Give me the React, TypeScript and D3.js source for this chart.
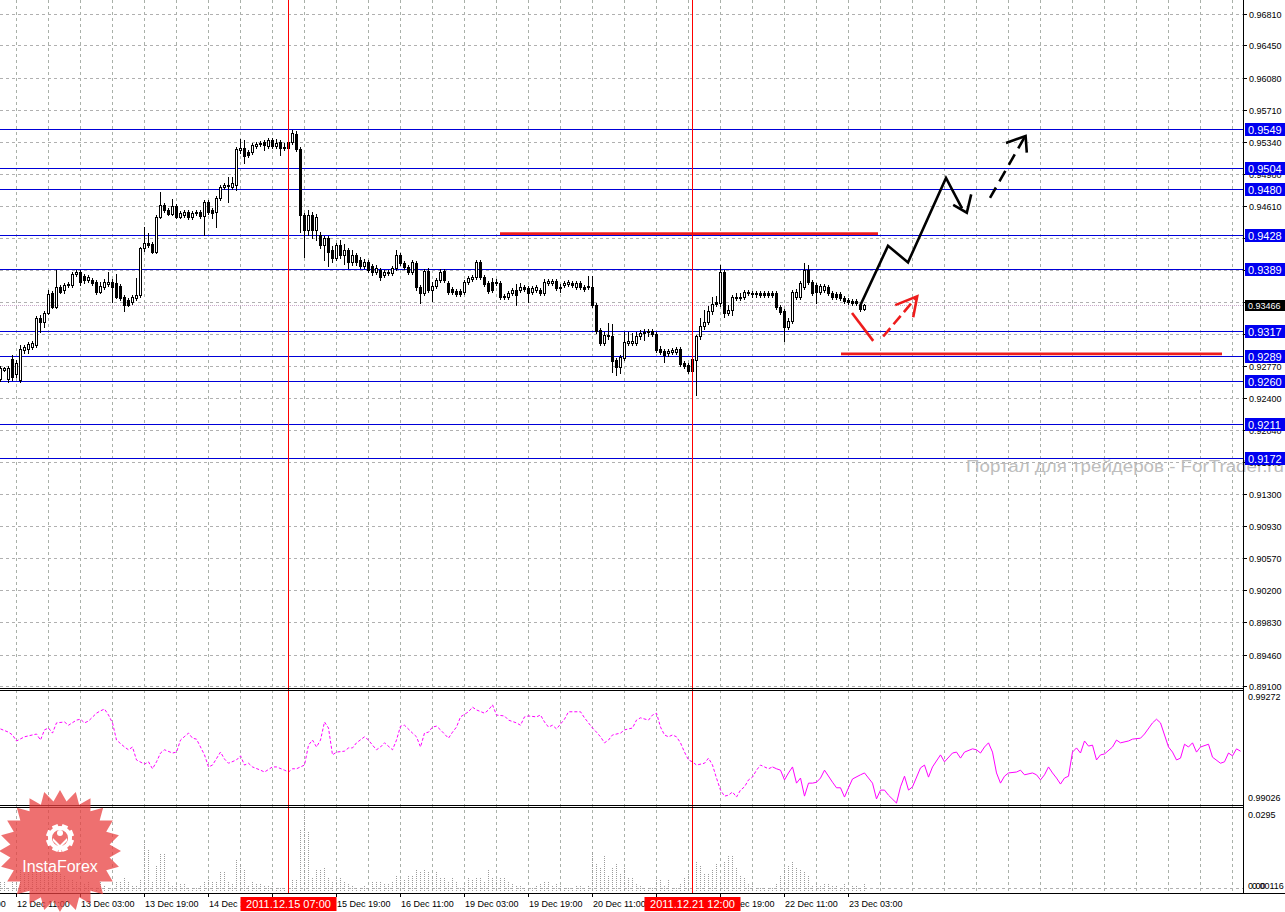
import React from "react";
import * as d3 from "d3";

// ---------- DATA ----------
const opens = [
  0.9262, 0.9273, 0.9262, 0.9285, 0.9268, 0.9261, 0.9296, 0.9297, 0.9299, 0.9301,
  0.9332, 0.9328, 0.9338, 0.9361, 0.9345, 0.9368, 0.9364, 0.9370, 0.9370, 0.9383,
  0.9385, 0.9380, 0.9376, 0.9376, 0.9374, 0.9362, 0.9368, 0.9371, 0.9374, 0.9372,
  0.9369, 0.9356, 0.9353, 0.9351, 0.9355, 0.9359, 0.9412, 0.9418, 0.9417, 0.9408,
  0.9448, 0.9462, 0.9456, 0.9452, 0.9461, 0.9448, 0.9450, 0.9454, 0.9448, 0.9453,
  0.9454, 0.9449, 0.9465, 0.9456, 0.9454, 0.9470, 0.9482, 0.9484, 0.9482, 0.9485,
  0.9525, 0.9527, 0.9523, 0.9523, 0.9530, 0.9532, 0.9534, 0.9530, 0.9536, 0.9530,
  0.9534, 0.9527, 0.9534, 0.9534, 0.9543, 0.9526, 0.9450, 0.9433, 0.9450, 0.9433,
  0.9427, 0.9416, 0.9424, 0.9410, 0.9401, 0.9416, 0.9405, 0.9410, 0.9396, 0.9405,
  0.9399, 0.9392, 0.9396, 0.9392, 0.9385, 0.9387, 0.9382, 0.9384, 0.9384, 0.9390,
  0.9405, 0.9395, 0.9391, 0.9385, 0.9395, 0.9368, 0.9361, 0.9386, 0.9364, 0.9369,
  0.9376, 0.9386, 0.9372, 0.9366, 0.9363, 0.9363, 0.9362, 0.9374, 0.9377, 0.9379,
  0.9396, 0.9379, 0.9372, 0.9374, 0.9372, 0.9372, 0.9357, 0.9356, 0.9361, 0.9364,
  0.9364, 0.9368, 0.9367, 0.9362, 0.9364, 0.9364, 0.9361, 0.9372, 0.9372, 0.9375,
  0.9367, 0.9370, 0.9371, 0.9372, 0.9368, 0.9372, 0.9368, 0.9369, 0.9368, 0.9347,
  0.9318, 0.9304, 0.9311, 0.9312, 0.9284, 0.9276, 0.9286, 0.9304, 0.9304, 0.9304,
  0.9311, 0.9315, 0.9316, 0.9317, 0.9314, 0.9297, 0.9294, 0.9292, 0.9293, 0.9293,
  0.9297, 0.9281, 0.9278, 0.9285, 0.9284, 0.9311, 0.9323, 0.9328, 0.9340, 0.9351,
  0.9349, 0.9385, 0.9338, 0.9341, 0.9356, 0.9356, 0.9356, 0.9361, 0.9361, 0.9361,
  0.9361, 0.9361, 0.9361, 0.9361, 0.9361, 0.9345, 0.9340, 0.9322, 0.9329, 0.9356,
  0.9356, 0.9368, 0.9387, 0.9374, 0.9370, 0.9362, 0.9364, 0.9368, 0.9361, 0.9360,
  0.9360, 0.9355, 0.9353, 0.9352, 0.9352, 0.9347, 0.9343,
];
const highs = [
  0.9277, 0.9276, 0.9277, 0.9290, 0.9284, 0.9301, 0.9301, 0.9305, 0.9306, 0.9335,
  0.9336, 0.9340, 0.9364, 0.9363, 0.9387, 0.9370, 0.9372, 0.9374, 0.9385, 0.9387,
  0.9387, 0.9383, 0.9382, 0.9378, 0.9376, 0.9374, 0.9377, 0.9385, 0.9377, 0.9383,
  0.9371, 0.9359, 0.9355, 0.9359, 0.9378, 0.9414, 0.9437, 0.9430, 0.9419, 0.9450,
  0.9477, 0.9464, 0.9458, 0.9469, 0.9463, 0.9455, 0.9456, 0.9456, 0.9455, 0.9456,
  0.9456, 0.9468, 0.9468, 0.9458, 0.9472, 0.9485, 0.9487, 0.9494, 0.9494, 0.9528,
  0.9538, 0.9536, 0.9525, 0.9533, 0.9534, 0.9535, 0.9536, 0.9539, 0.9539, 0.9538,
  0.9536, 0.9533, 0.9536, 0.9548, 0.9547, 0.9528, 0.9453, 0.9456, 0.9454, 0.9452,
  0.9431, 0.9426, 0.9426, 0.9415, 0.9418, 0.9422, 0.9417, 0.9413, 0.9410, 0.9407,
  0.9402, 0.9400, 0.9399, 0.9394, 0.9393, 0.9390, 0.9387, 0.9387, 0.9392, 0.9410,
  0.9407, 0.9398, 0.9393, 0.9399, 0.9398, 0.9370, 0.9388, 0.9390, 0.9374, 0.9378,
  0.9388, 0.9388, 0.9375, 0.9368, 0.9366, 0.9366, 0.9376, 0.9380, 0.9382, 0.9399,
  0.9399, 0.9382, 0.9375, 0.9378, 0.9377, 0.9375, 0.9360, 0.9363, 0.9367, 0.9371,
  0.9372, 0.9370, 0.9369, 0.9369, 0.9370, 0.9367, 0.9377, 0.9377, 0.9377, 0.9377,
  0.9371, 0.9375, 0.9376, 0.9375, 0.9375, 0.9375, 0.9370, 0.9380, 0.9380, 0.9349,
  0.9321, 0.9316, 0.9327, 0.9325, 0.9286, 0.9290, 0.9316, 0.9316, 0.9315, 0.9316,
  0.9318, 0.9320, 0.9320, 0.9320, 0.9316, 0.9300, 0.9297, 0.9297, 0.9298, 0.9299,
  0.9299, 0.9283, 0.9281, 0.9288, 0.9313, 0.9332, 0.9341, 0.9346, 0.9356, 0.9357,
  0.9393, 0.9387, 0.9347, 0.9359, 0.9361, 0.9361, 0.9364, 0.9364, 0.9363, 0.9363,
  0.9363, 0.9363, 0.9363, 0.9363, 0.9363, 0.9347, 0.9343, 0.9332, 0.9364, 0.9366,
  0.9375, 0.9395, 0.9393, 0.9376, 0.9372, 0.9371, 0.9371, 0.9370, 0.9363, 0.9362,
  0.9362, 0.9357, 0.9355, 0.9354, 0.9354, 0.9349, 0.9348,
];
const lows = [
  0.9260, 0.9271, 0.9259, 0.9261, 0.9265, 0.9259, 0.9292, 0.9292, 0.9297, 0.9299,
  0.9316, 0.9322, 0.9337, 0.9344, 0.9344, 0.9361, 0.9361, 0.9368, 0.9368, 0.9380,
  0.9370, 0.9372, 0.9374, 0.9370, 0.9360, 0.9361, 0.9366, 0.9369, 0.9351, 0.9355,
  0.9353, 0.9340, 0.9346, 0.9348, 0.9353, 0.9356, 0.9409, 0.9414, 0.9407, 0.9407,
  0.9447, 0.9454, 0.9450, 0.9450, 0.9447, 0.9447, 0.9448, 0.9446, 0.9446, 0.9450,
  0.9447, 0.9427, 0.9452, 0.9447, 0.9437, 0.9468, 0.9480, 0.9465, 0.9480, 0.9479,
  0.9522, 0.9510, 0.9517, 0.9520, 0.9527, 0.9530, 0.9525, 0.9527, 0.9527, 0.9527,
  0.9519, 0.9525, 0.9525, 0.9532, 0.9524, 0.9431, 0.9402, 0.9427, 0.9424, 0.9422,
  0.9413, 0.9399, 0.9392, 0.9396, 0.9399, 0.9401, 0.9394, 0.9390, 0.9393, 0.9393,
  0.9390, 0.9390, 0.9385, 0.9382, 0.9383, 0.9376, 0.9379, 0.9382, 0.9382, 0.9387,
  0.9393, 0.9388, 0.9383, 0.9383, 0.9364, 0.9349, 0.9359, 0.9362, 0.9352, 0.9367,
  0.9374, 0.9374, 0.9360, 0.9360, 0.9357, 0.9357, 0.9360, 0.9371, 0.9375, 0.9377,
  0.9377, 0.9369, 0.9361, 0.9362, 0.9370, 0.9354, 0.9354, 0.9354, 0.9359, 0.9347,
  0.9362, 0.9363, 0.9351, 0.9360, 0.9362, 0.9359, 0.9359, 0.9370, 0.9370, 0.9364,
  0.9362, 0.9368, 0.9369, 0.9368, 0.9366, 0.9366, 0.9363, 0.9366, 0.9345, 0.9315,
  0.9301, 0.9301, 0.9308, 0.9270, 0.9267, 0.9269, 0.9284, 0.9301, 0.9301, 0.9301,
  0.9308, 0.9307, 0.9312, 0.9312, 0.9293, 0.9291, 0.9282, 0.9289, 0.9291, 0.9291,
  0.9277, 0.9275, 0.9269, 0.9269, 0.9244, 0.9308, 0.9320, 0.9325, 0.9337, 0.9346,
  0.9346, 0.9333, 0.9336, 0.9336, 0.9353, 0.9353, 0.9354, 0.9359, 0.9356, 0.9356,
  0.9356, 0.9356, 0.9356, 0.9356, 0.9343, 0.9337, 0.9306, 0.9320, 0.9327, 0.9354,
  0.9354, 0.9366, 0.9371, 0.9359, 0.9349, 0.9360, 0.9362, 0.9359, 0.9354, 0.9354,
  0.9353, 0.9349, 0.9348, 0.9347, 0.9347, 0.9340, 0.9341,
];
const closes = [
  0.9275, 0.9275, 0.9275, 0.9265, 0.9281, 0.9297, 0.9299, 0.9302, 0.9304, 0.9332,
  0.9328, 0.9338, 0.9360, 0.9345, 0.9368, 0.9362, 0.9370, 0.9371, 0.9383, 0.9385,
  0.9374, 0.9376, 0.9379, 0.9372, 0.9362, 0.9369, 0.9374, 0.9374, 0.9368, 0.9356,
  0.9355, 0.9347, 0.9347, 0.9356, 0.9359, 0.9412, 0.9418, 0.9416, 0.9408, 0.9448,
  0.9462, 0.9456, 0.9452, 0.9461, 0.9448, 0.9453, 0.9454, 0.9448, 0.9453, 0.9454,
  0.9449, 0.9465, 0.9454, 0.9453, 0.9470, 0.9482, 0.9485, 0.9485, 0.9487, 0.9526,
  0.9527, 0.9518, 0.9519, 0.9531, 0.9532, 0.9533, 0.9531, 0.9536, 0.9530, 0.9533,
  0.9527, 0.9528, 0.9527, 0.9544, 0.9526, 0.9450, 0.9433, 0.9450, 0.9433, 0.9448,
  0.9416, 0.9424, 0.9408, 0.9401, 0.9416, 0.9405, 0.9410, 0.9396, 0.9405, 0.9396,
  0.9392, 0.9396, 0.9387, 0.9385, 0.9390, 0.9379, 0.9385, 0.9385, 0.9390, 0.9405,
  0.9395, 0.9391, 0.9385, 0.9396, 0.9368, 0.9361, 0.9386, 0.9364, 0.9369, 0.9376,
  0.9385, 0.9376, 0.9362, 0.9362, 0.9360, 0.9360, 0.9374, 0.9378, 0.9379, 0.9396,
  0.9379, 0.9371, 0.9363, 0.9364, 0.9374, 0.9356, 0.9356, 0.9361, 0.9364, 0.9359,
  0.9368, 0.9366, 0.9361, 0.9367, 0.9368, 0.9361, 0.9374, 0.9375, 0.9375, 0.9367,
  0.9368, 0.9372, 0.9374, 0.9370, 0.9372, 0.9368, 0.9366, 0.9368, 0.9347, 0.9317,
  0.9304, 0.9313, 0.9313, 0.9283, 0.9276, 0.9288, 0.9305, 0.9306, 0.9306, 0.9311,
  0.9315, 0.9316, 0.9317, 0.9314, 0.9296, 0.9293, 0.9290, 0.9294, 0.9296, 0.9297,
  0.9279, 0.9277, 0.9271, 0.9271, 0.9311, 0.9323, 0.9328, 0.9340, 0.9348, 0.9348,
  0.9385, 0.9338, 0.9341, 0.9356, 0.9355, 0.9355, 0.9362, 0.9362, 0.9360, 0.9360,
  0.9359, 0.9359, 0.9359, 0.9359, 0.9345, 0.9339, 0.9322, 0.9329, 0.9362, 0.9362,
  0.9372, 0.9387, 0.9374, 0.9361, 0.9362, 0.9369, 0.9369, 0.9361, 0.9356, 0.9356,
  0.9355, 0.9352, 0.9351, 0.9349, 0.9349, 0.9343, 0.93466,
];
const volumes = [
  0.0031, 0.0031, 0.0012, 0.0031, 0.0031, 0.0074, 0.0062, 0.0074, 0.0068, 0.0074,
  0.0074, 0.0074, 0.0062, 0.0074, 0.0068, 0.0062, 0.0055, 0.0043, 0.0043, 0.0037,
  0.0031, 0.0025, 0.0031, 0.0012, 0.0012, 0.0031, 0.0018, 0.0012, 0.0006, 0.0031,
  0.0037, 0.0049, 0.0031, 0.0018, 0.0022, 0.0043, 0.0178, 0.0150, 0.0037, 0.0092,
  0.0133, 0.0133, 0.0031, 0.0018, 0.0025, 0.0027, 0.0025, 0.0010, 0.0012, 0.0010,
  0.0018, 0.0037, 0.0039, 0.0034, 0.0037, 0.0071, 0.0071, 0.0037, 0.0027, 0.0113,
  0.0101, 0.0074, 0.0018, 0.0031, 0.0025, 0.0025, 0.0018, 0.0018, 0.0018, 0.0012,
  0.0012, 0.0010, 0.0025, 0.0039, 0.0043, 0.0221, 0.0289, 0.0215, 0.0052, 0.0074,
  0.0076, 0.0084, 0.0049, 0.0031, 0.0047, 0.0047, 0.0034, 0.0025, 0.0022, 0.0012,
  0.0012, 0.0018, 0.0012, 0.0031, 0.0031, 0.0031, 0.0025, 0.0027, 0.0037, 0.0055,
  0.0043, 0.0043, 0.0055, 0.0055, 0.0076, 0.0068, 0.0076, 0.0068, 0.0055, 0.0068,
  0.0052, 0.0052, 0.0037, 0.0052, 0.0037, 0.0012, 0.0025, 0.0047, 0.0043, 0.0052,
  0.0052, 0.0037, 0.0074, 0.0049, 0.0043, 0.0046, 0.0046, 0.0034, 0.0025, 0.0022,
  0.0022, 0.0016, 0.0010, 0.0016, 0.0022, 0.0030, 0.0034, 0.0034, 0.0022, 0.0028,
  0.0022, 0.0016, 0.0016, 0.0016, 0.0018, 0.0018, 0.0016, 0.0022, 0.0140, 0.0100,
  0.0088, 0.0125, 0.0058, 0.0088, 0.0100, 0.0064, 0.0082, 0.0046, 0.0052, 0.0028,
  0.0022, 0.0016, 0.0016, 0.0010, 0.0052, 0.0040, 0.0018, 0.0040, 0.0010, 0.0016,
  0.0028, 0.0052, 0.0064, 0.0058, 0.0106, 0.0094, 0.0064, 0.0061, 0.0076, 0.0102,
  0.0040, 0.0106, 0.0130, 0.0125, 0.0082, 0.0058, 0.0046, 0.0030, 0.0028, 0.0010,
  0.0010, 0.0010, 0.0013, 0.0010, 0.0028, 0.0058, 0.0082, 0.0094, 0.0106, 0.0082,
  0.0076, 0.0070, 0.0058, 0.0022, 0.0028, 0.0022, 0.0028, 0.0028, 0.0022, 0.0022,
  0.0010, 0.0028, 0.0016, 0.0022, 0.0022, 0.0010, 0.0028,
];
const indBars = [
  0, 2, 3, 4, 6, 7, 9, 10, 11, 12, 13, 14, 16, 17, 19, 20, 21, 22, 24, 25, 26, 27, 28, 29, 31, 32, 33, 34, 36, 37,
  38, 39, 40, 41, 43, 44, 45, 47, 48, 49, 51, 52, 53, 55, 56, 57, 59, 60, 61, 62, 63, 65, 66, 68, 69, 71, 72, 73, 74, 76,
  77, 78, 79, 80, 81, 82, 83, 84, 86, 87, 88, 89, 91, 92, 93, 94, 95, 96, 98, 99, 100, 101, 103, 104, 105, 106, 107, 108, 109, 110,
  112, 113, 114, 115, 117, 118, 119, 121, 122, 123, 124, 126, 127, 129, 130, 131, 132, 134, 135, 136, 137, 138, 139, 141, 142, 143, 145, 146, 147, 148,
  149, 150, 151, 152, 153, 155, 156, 158, 159, 160, 162, 163, 164, 165, 166, 167, 168, 169, 170, 171, 172, 173, 174, 176, 177, 178, 179, 180, 181, 182,
  183, 184, 185, 186, 187, 188, 189, 190, 191, 192, 193, 194, 195, 196, 197, 198, 199, 200, 201, 202, 203, 204, 205, 206, 208, 209, 210, 211, 212, 213,
  215, 216, 218, 219, 220, 221, 222, 224, 225, 226, 227, 228, 230, 231, 232, 233, 235, 236, 238, 239, 240, 241, 243, 244, 245, 246, 247, 248, 249, 250,
  251, 252, 254, 255, 256, 258, 259, 260, 261, 262, 263, 264, 265, 266, 267, 268, 269, 270, 271, 272, 273, 274, 275, 276, 278, 279, 280, 282, 283, 285,
  286, 288, 289, 290, 292, 293, 294, 295, 296, 297, 298, 299, 300, 302, 303, 305, 306, 307, 308, 309, 310,
];
const indValues = [
  0.99188, 0.99181, 0.99175, 0.99162, 0.99171, 0.99173, 0.99177, 0.99164, 0.99186, 0.99190, 0.99179, 0.99201, 0.99203, 0.99196, 0.99207, 0.99209, 0.99201, 0.99205, 0.99222, 0.99227, 0.99231, 0.99218, 0.99201, 0.99164, 0.99149, 0.99143, 0.99149, 0.99121, 0.99112, 0.99117,
  0.99102, 0.99117, 0.99136, 0.99143, 0.99136, 0.99138, 0.99164, 0.99179, 0.99168, 0.99166, 0.99132, 0.99106, 0.99110, 0.99138, 0.99123, 0.99114, 0.99121, 0.99130, 0.99110, 0.99114, 0.99106, 0.99099, 0.99095, 0.99106, 0.99106, 0.99099, 0.99095, 0.99102, 0.99102, 0.99110,
  0.99153, 0.99164, 0.99149, 0.99164, 0.99203, 0.99190, 0.99132, 0.99138, 0.99140, 0.99147, 0.99147, 0.99158, 0.99171, 0.99164, 0.99153, 0.99143, 0.99149, 0.99158, 0.99143, 0.99164, 0.99194, 0.99196, 0.99179, 0.99171, 0.99149, 0.99179, 0.99181, 0.99192, 0.99194, 0.99186,
  0.99168, 0.99181, 0.99192, 0.99214, 0.99225, 0.99235, 0.99229, 0.99222, 0.99229, 0.99240, 0.99218, 0.99216, 0.99207, 0.99201, 0.99196, 0.99214, 0.99216, 0.99214, 0.99218, 0.99203, 0.99192, 0.99196, 0.99188, 0.99209, 0.99225, 0.99225, 0.99225, 0.99212, 0.99201, 0.99190,
  0.99181, 0.99171, 0.99158, 0.99164, 0.99175, 0.99179, 0.99186, 0.99190, 0.99207, 0.99212, 0.99207, 0.99218, 0.99222, 0.99192, 0.99175, 0.99171, 0.99175, 0.99171, 0.99158, 0.99138, 0.99121, 0.99117, 0.99110, 0.99114, 0.99125, 0.99110, 0.99082, 0.99056, 0.99043, 0.99045,
  0.99052, 0.99041, 0.99056, 0.99063, 0.99078, 0.99084, 0.99099, 0.99110, 0.99106, 0.99102, 0.99106, 0.99102, 0.99099, 0.99078, 0.99093, 0.99106, 0.99071, 0.99082, 0.99043, 0.99071, 0.99071, 0.99073, 0.99082, 0.99099, 0.99073, 0.99061, 0.99061, 0.99041, 0.99061, 0.99080,
  0.99089, 0.99093, 0.99071, 0.99037, 0.99056, 0.99056, 0.99045, 0.99028, 0.99063, 0.99086, 0.99056, 0.99063, 0.99104, 0.99110, 0.99084, 0.99106, 0.99132, 0.99117, 0.99136, 0.99138, 0.99125, 0.99138, 0.99145, 0.99143, 0.99136, 0.99149, 0.99158, 0.99138, 0.99093, 0.99071,
  0.99086, 0.99093, 0.99095, 0.99099, 0.99089, 0.99093, 0.99089, 0.99078, 0.99089, 0.99106, 0.99093, 0.99082, 0.99069, 0.99082, 0.99086, 0.99138, 0.99147, 0.99136, 0.99162, 0.99151, 0.99153, 0.99121, 0.99132, 0.99134, 0.99149, 0.99164, 0.99158, 0.99162, 0.99166, 0.99168,
  0.99177, 0.99201, 0.99209, 0.99201, 0.99149, 0.99138, 0.99121, 0.99125, 0.99155, 0.99149, 0.99158, 0.99138, 0.99149, 0.99155, 0.99127, 0.99114, 0.99117, 0.99136, 0.99130, 0.99145, 0.99140,
];
const indSolidFrom = 193;

const priceTicks = [
  0.9681, 0.9645, 0.9608, 0.9571, 0.9534, 0.9498, 0.9461, 0.9424, 0.9387, 0.9351, 0.9314,
  0.9277, 0.924, 0.9204, 0.9167, 0.913, 0.9093, 0.9057, 0.902, 0.8983, 0.8946, 0.891,
];
const levelPrices = [0.9549, 0.9504, 0.948, 0.9428, 0.9389, 0.9317, 0.9289, 0.926, 0.9211, 0.9172];
const lastPrice = 0.93466;
const timeTickBars = [-12, 4, 20, 36, 52, 68, 84, 100, 116, 132, 148, 164, 180, 196, 212];
const timeTickLabels = [
  "11 Dec 19:00", "12 Dec 11:00", "13 Dec 03:00", "13 Dec 19:00", "14 Dec 11:00", "15 Dec 03:00",
  "15 Dec 19:00", "16 Dec 11:00", "19 Dec 03:00", "19 Dec 19:00", "20 Dec 11:00", "21 Dec 03:00",
  "21 Dec 19:00", "22 Dec 11:00", "23 Dec 03:00",
];
const markerBars = [72, 173];
const markerLabels = ["2011.12.15 07:00", "2011.12.21 12:00"];
const gridBarStep = 8;

// hand-drawn analysis objects: [bar index, price]
const redLevelFrom = [125, 210.25];
const redLevelTo = [219.5, 305.5];
const redLevelPrice = [0.9429, 0.9291];
const blackSolidPath = [[215, 0.9346], [222, 0.9415], [227, 0.9396], [236.5, 0.9493], [240.5, 0.9458]];
const blackSolidHead = [[238.3, 0.9462], [241.7, 0.9453], [242.8, 0.9474]];
const blackDashPath = [[247.5, 0.947], [256.2, 0.954]];
const blackDashHead = [[251.5, 0.9533], [256.4, 0.9541], [256.7, 0.9522]];
const redSolidPath = [[213, 0.9338], [218.3, 0.9306]];
const redDashPath = [[220.8, 0.9311], [229.1, 0.9356]];
const redDashHead = [[223.8, 0.9347], [229.3, 0.9357], [228.3, 0.9333]];

const volMaxLabel = "0.0295";
const indMaxLabel = "0.99272";
const indMinLabel = "0.99026";
const watermark = "Портал для трейдеров - ForTrader.ru";

// ---------- CHART ----------
const FONT = "'Liberation Sans', Arial, sans-serif";

export default function App() {
  const x = d3.scaleLinear().domain([0, 310]).range([0, 1240]); // pixel column of bar
  const y = d3.scaleLinear().domain([0.891, 0.9681]).range([686, 14]);
  const yi = d3.scaleLinear().domain([0.99026, 0.99272]).range([804, 690]);
  const yv = d3.scaleLinear().domain([0, 0.0295]).range([891, 809]);

  const cx = (k: number) => Math.round(x(k)) + 0.5;
  const ry = (p: number) => Math.round(y(p));

  const gridX = d3.range(4, 312, gridBarStep);

  const candles = opens.map((o, i) => {
    const c = closes[i];
    const px = Math.round(x(i));
    const yo = ry(o), yc = ry(c), yh = ry(highs[i]), yl = ry(lows[i]);
    const top = Math.min(yo, yc), bot = Math.max(yo, yc);
    const wick = <line x1={px + 0.5} x2={px + 0.5} y1={yh} y2={yl + 1} stroke="#000" />;
    let body;
    if (bot - top < 1) {
      body = <line x1={px - 1} x2={px + 2} y1={top + 0.5} y2={top + 0.5} stroke="#000" />;
    } else if (c >= o) {
      body = <rect x={px - 0.5} y={top + 0.5} width={2} height={bot - top} fill="#fff" stroke="#000" />;
    } else {
      body = <rect x={px - 1} y={top} width={3} height={bot - top + 1} fill="#000" />;
    }
    return <g key={i}>{wick}{body}</g>;
  });

  const indPts = indBars.map((k, i) => [x(k) + 0.5, yi(indValues[i])] as [number, number]);
  const line = d3.line();
  const dashedPts = indPts.filter((_, i) => indBars[i] <= indSolidFrom);
  const solidPts = indPts.filter((_, i) => indBars[i] >= indSolidFrom);

  const toPx = (pts: number[][]) => pts.map(([k, p]) => [x(k), y(p)] as [number, number]);

  const star = d3.range(48).map((i) => {
    const a = (i * Math.PI) / 24 - Math.PI / 2;
    const r = i % 2 === 0 ? 61 : 50;
    return [60 + r * Math.cos(a), 851 + r * Math.sin(a)] as [number, number];
  });

  return (
    <svg
      width={1285}
      height={912}
      style={{ position: "absolute", left: 0, top: 0, background: "#fff", display: "block" }}
      fontFamily={FONT}
    >
      <defs>
        <clipPath id="cMain"><rect x={0} y={0} width={1243} height={688} /></clipPath>
        <clipPath id="cInd"><rect x={0} y={691} width={1243} height={114} /></clipPath>
        <clipPath id="cVol"><rect x={0} y={808} width={1243} height={85} /></clipPath>
      </defs>
      <rect x={0} y={0} width={1285} height={912} fill="#fff" />

      {/* vertical grid */}
      {gridX.map((k) => (
        <line key={"gx" + k} x1={cx(k)} x2={cx(k)} y1={0} y2={893} stroke="#a9b0a9" strokeDasharray="3 3" />
      ))}
      {/* horizontal grid */}
      {priceTicks.map((t) => (
        <line key={"gy" + t} x1={0} x2={1243} y1={ry(t) + 0.5} y2={ry(t) + 0.5} stroke="#b0b0b0" strokeDasharray="3 3" />
      ))}

      {/* watermark */}
      <text x={966} y={472} fontSize={16} fill="#bdbdbd" textLength={318} lengthAdjust="spacingAndGlyphs">{watermark}</text>

      <g clipPath="url(#cMain)">
        {levelPrices.map((p) => (
          <line key={"lv" + p} x1={0} x2={1243} y1={ry(p) + 0.5} y2={ry(p) + 0.5} stroke="#0000d8" />
        ))}
        <line x1={0} x2={1243} y1={ry(lastPrice) + 0.5} y2={ry(lastPrice) + 0.5} stroke="#c8a8c8" strokeDasharray="1 1" />
        {candles}
        {redLevelPrice.map((p, i) => (
          <line key={"rl" + i} x1={x(redLevelFrom[i])} x2={x(redLevelTo[i])} y1={y(p)} y2={y(p)} stroke="#ee1c1c" strokeWidth={2.6} />
        ))}
        <path d={line(toPx(blackSolidPath)) || ""} fill="none" stroke="#000" strokeWidth={2.6} strokeLinejoin="miter" />
        <path d={line(toPx(blackSolidHead)) || ""} fill="none" stroke="#000" strokeWidth={2.6} />
        <path d={line(toPx(blackDashPath)) || ""} fill="none" stroke="#000" strokeWidth={2.6} strokeDasharray="12 7" />
        <path d={line(toPx(blackDashHead)) || ""} fill="none" stroke="#000" strokeWidth={2.6} />
        <path d={line(toPx(redSolidPath)) || ""} fill="none" stroke="#ee1c1c" strokeWidth={2.6} />
        <path d={line(toPx(redDashPath)) || ""} fill="none" stroke="#ee1c1c" strokeWidth={2.6} strokeDasharray="11 5" />
        <path d={line(toPx(redDashHead)) || ""} fill="none" stroke="#ee1c1c" strokeWidth={2.6} />
      </g>

      <g clipPath="url(#cInd)">
        <path d={line(dashedPts) || ""} fill="none" stroke="#ff00ff" strokeDasharray="3 2" />
        <path d={line(solidPts) || ""} fill="none" stroke="#ff00ff" />
      </g>

      <g clipPath="url(#cVol)">
        <line x1={0} x2={1243} y1={Math.round(yv(0.00116)) + 0.5} y2={Math.round(yv(0.00116)) + 0.5} stroke="#b0b0b0" strokeDasharray="3 3" />
        {volumes.map((v, i) => (
          <line key={"v" + i} x1={cx(i)} x2={cx(i)} y1={yv(0)} y2={Math.round(yv(v))} stroke="#9c9c9c" strokeDasharray="1 1" />
        ))}
      </g>

      {markerBars.map((k) => (
        <line key={"mk" + k} x1={cx(k)} x2={cx(k)} y1={0} y2={893} stroke="#ff0000" />
      ))}

      <line x1={1243.5} x2={1243.5} y1={0} y2={893} stroke="#000" />
      <line x1={0} x2={1244} y1={688.5} y2={688.5} stroke="#000" />
      <line x1={0} x2={1244} y1={690.5} y2={690.5} stroke="#000" />
      <line x1={0} x2={1244} y1={805.5} y2={805.5} stroke="#000" />
      <line x1={0} x2={1244} y1={807.5} y2={807.5} stroke="#000" />
      <line x1={0} x2={1285} y1={893.5} y2={893.5} stroke="#000" />

      {priceTicks.map((t) => (
        <g key={"pt" + t}>
          <line x1={1243} x2={1247} y1={ry(t) + 0.5} y2={ry(t) + 0.5} stroke="#000" />
          <text x={1249} y={ry(t) + 3.5} fontSize={9} fill="#000">{t.toFixed(5)}</text>
        </g>
      ))}
      {levelPrices.map((p) => (
        <g key={"lb" + p}>
          <rect x={1245} y={ry(p) - 6} width={41} height={13} fill="#0000f0" />
          <text x={1248} y={ry(p) + 4.5} fontSize={11} fill="#fff">{p.toFixed(4)}</text>
        </g>
      ))}
      <rect x={1245} y={ry(lastPrice) - 5} width={41} height={11} fill="#000" />
      <text x={1248} y={ry(lastPrice) + 3.5} fontSize={9} fill="#fff">{lastPrice.toFixed(5)}</text>

      <text x={1248} y={700} fontSize={9} fill="#000">{indMaxLabel}</text>
      <text x={1248} y={801} fontSize={9} fill="#000">{indMinLabel}</text>
      <text x={1248} y={818} fontSize={9} fill="#000">{volMaxLabel}</text>
      <text x={1248} y={889} fontSize={9} fill="#000">0.00</text>
      <text x={1252} y={889} fontSize={9} fill="#000">0.00116</text>

      {timeTickBars.map((k, i) => (
        <g key={"tt" + k}>
          <line x1={cx(k)} x2={cx(k)} y1={893} y2={897} stroke="#000" />
          <text x={x(k) + 1} y={907} fontSize={9} fill="#000">{timeTickLabels[i]}</text>
        </g>
      ))}
      {markerBars.map((k, i) => (
        <g key={"ml" + k}>
          <rect x={cx(k) - 48} y={897} width={96} height={14} fill="#ff0000" />
          <text x={cx(k)} y={908} fontSize={11} fill="#fff" textAnchor="middle">{markerLabels[i]}</text>
        </g>
      ))}

      <g opacity={0.75}>
        <polygon points={star.map((p) => p.join(",")).join(" ")} fill="#e84040" />
      </g>
      <g fill="#fff" stroke="none">
        {d3.range(8).map((i) => (
          <rect key={"gt" + i} x={57} y={824} width={6} height={5} transform={`rotate(${i * 45 + 22.5} 60 838)`} />
        ))}
        <circle cx={60} cy={838} r={10} fill="none" stroke="#fff" strokeWidth={4} />
        <circle cx={60} cy={833} r={3} />
        <path d="M53 838 L60 845 L67 838 L67 841 L61.5 846.5 L61.5 852 L58.5 852 L58.5 846.5 L53 841 Z" />
        <text x={60} y={872} fontSize={16} textAnchor="middle" fill="#fff">InstaForex</text>
      </g>
    </svg>
  );
}
